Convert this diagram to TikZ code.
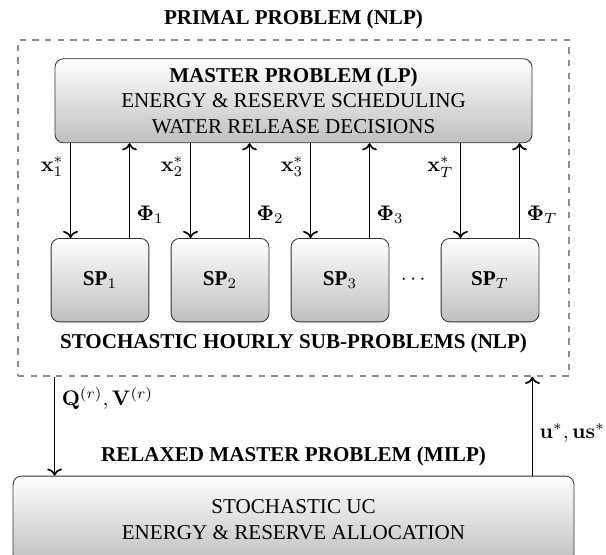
\documentclass[tikz,border=0pt]{standalone}
\usepackage[no-math]{fontspec}
\setmainfont{Liberation Serif}
\usepackage{amsmath,amssymb}
\usepackage{xcolor}
\usetikzlibrary{positioning,arrows.meta,calc}

\begin{document}
\begin{tikzpicture}[
  box/.style={draw=black!80, rounded corners=4pt, align=center, top color=white, bottom color=black!25},
  spbox/.style={box, minimum width=16.3mm, minimum height=13.9mm},
  arr/.style={->, thick},
  lbl/.style={inner sep=3pt},
  hdr/.style={font=\bfseries, align=center}
]
\useasboundingbox (0,0) rectangle (101mm,-92.5mm);
\node[hdr] (primal) at (48.92mm,-3.3mm) {PRIMAL PROBLEM (NLP)};
\node[draw=black!45, dashed, thick, minimum width=91.8mm, minimum height=56mm]
  (frame) at (48.92mm,-34.67mm) {};
\node[box, minimum width=79.5mm, minimum height=14mm] (master) at (48.92mm,-16.8mm)
  {\textbf{MASTER PROBLEM (LP)}\\ENERGY \& RESERVE SCHEDULING\\WATER RELEASE DECISIONS};
\node[spbox] (sp1) at (16.67mm,-46.7mm) {\textbf{SP}$_1$};
\node[spbox] (sp2) at (36.67mm,-46.7mm) {\textbf{SP}$_2$};
\node[spbox] (sp3) at (56.67mm,-46.7mm) {\textbf{SP}$_3$};
\node (dots) at (69.17mm,-46.7mm) {$\cdots$};
\node[spbox] (spT) at (81.67mm,-46.7mm) {\textbf{SP}$_T$};
\node[hdr] (sub) at (48.92mm,-57.2mm) {STOCHASTIC HOURLY SUB-PROBLEMS (NLP)};
\node[hdr] (relaxed) at (48.92mm,-76.1mm) {RELAXED MASTER PROBLEM (MILP)};
\node[box, minimum width=93.5mm, minimum height=14.5mm] (rmp) at (48.92mm,-86.6mm)
  {STOCHASTIC UC\\ENERGY \& RESERVE ALLOCATION};

% master <-> hourly sub-problems
\draw[arr] ([xshift=-4.92mm]sp1.north |- master.south) -- ([xshift=-4.92mm]sp1.north)
  node[lbl, pos=0.25, left] {$\mathbf{x}_1^*$};
\draw[arr] ([xshift=4.92mm]sp1.north) -- ([xshift=4.92mm]sp1.north |- master.south)
  node[lbl, pos=0.25, right] {$\mathbf{\Phi}_1$};
\draw[arr] ([xshift=-4.92mm]sp2.north |- master.south) -- ([xshift=-4.92mm]sp2.north)
  node[lbl, pos=0.25, left] {$\mathbf{x}_2^*$};
\draw[arr] ([xshift=4.92mm]sp2.north) -- ([xshift=4.92mm]sp2.north |- master.south)
  node[lbl, pos=0.25, right] {$\mathbf{\Phi}_2$};
\draw[arr] ([xshift=-4.92mm]sp3.north |- master.south) -- ([xshift=-4.92mm]sp3.north)
  node[lbl, pos=0.25, left] {$\mathbf{x}_3^*$};
\draw[arr] ([xshift=4.92mm]sp3.north) -- ([xshift=4.92mm]sp3.north |- master.south)
  node[lbl, pos=0.25, right] {$\mathbf{\Phi}_3$};
\draw[arr] ([xshift=-4.92mm]spT.north |- master.south) -- ([xshift=-4.92mm]spT.north)
  node[lbl, pos=0.25, left] {$\mathbf{x}_T^*$};
\draw[arr] ([xshift=4.92mm]spT.north) -- ([xshift=4.92mm]spT.north |- master.south)
  node[lbl, pos=0.25, right] {$\mathbf{\Phi}_T$};

% primal problem <-> relaxed master problem
\draw[arr] (frame.south -| master.west) -- (rmp.north -| master.west)
  node[lbl, pos=0.22, right] {$\mathbf{Q}^{(r)}, \mathbf{V}^{(r)}$};
\draw[arr] (rmp.north -| master.east) -- (frame.south -| master.east)
  node[lbl, pos=0.43, right] {$\mathbf{u}^*, \mathbf{us}^*$};
\end{tikzpicture}
\end{document}
